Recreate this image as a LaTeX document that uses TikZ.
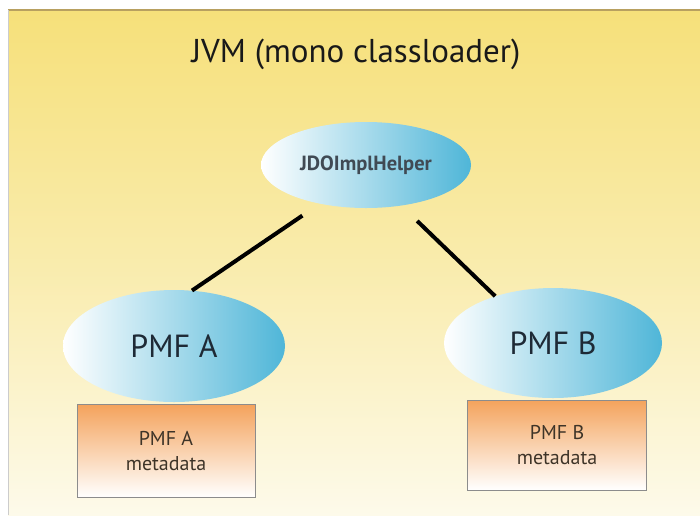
\documentclass[tikz,border=0pt]{standalone}
\usepackage{fontspec}
\setmainfont{PT Sans}
\usetikzlibrary{shapes.geometric}
\definecolor{panelTop}{HTML}{F6E07A}
\definecolor{panelBot}{HTML}{FDFAEA}
\definecolor{bubble}{HTML}{4FB6D8}
\definecolor{boxTop}{HTML}{F4A35C}
\definecolor{ink}{HTML}{1E2A36}
\definecolor{rim}{HTML}{B8A060}
\definecolor{metaink}{HTML}{3E3428}
\tikzset{
  bubble/.style={ellipse, shading=axis, left color=white, right color=bubble,
    shading angle=90, text=ink, inner sep=0pt},
  metabox/.style={draw=black!45, line width=1pt, top color=boxTop, bottom color=white,
    text=metaink, align=center, inner sep=0pt, font=\fontsize{20}{25}\selectfont},
  link/.style={line width=4pt, black}
}
\begin{document}
\begin{tikzpicture}[x=1pt,y=-1pt]
  \useasboundingbox (0,0) rectangle (700,515);
  \fill[white] (0,0) rectangle (700,515);
  % background panel
  \shade[top color=panelTop, bottom color=panelBot, middle color=panelTop!55!panelBot]
    (8,10) rectangle (700,515);
  \draw[line width=1.5pt, rim] (8,10) -- (700,10);
  \draw[line width=1pt, black!20] (8,10) -- (8,515);
  % title
  \node[font=\fontsize{33}{38}\selectfont, text=black!90] (title) at (356,54) {JVM (mono classloader)};
  % nodes
  \node[bubble, minimum width=210, minimum height=86, font=\bfseries\fontsize{20.5}{24}\selectfont, text=ink!85] (helper) at (366,165) {JDOImplHelper};
  \node[bubble, minimum width=222, minimum height=112, font=\fontsize{32}{36}\selectfont] (pmfa) at (174,346) {PMF A};
  \node[bubble, minimum width=218, minimum height=110, font=\fontsize{32}{36}\selectfont] (pmfb) at (553,343) {PMF B};
  \node[metabox, minimum width=178, minimum height=93] (metaa) at (166,451) {PMF A\\metadata};
  \node[metabox, minimum width=179, minimum height=90] (metab) at (557,445) {PMF B\\metadata};
  % connectors
  \draw[link, shorten <=21pt] (helper.220.5) -- (pmfa.72);
  \draw[link, shorten <=22pt] (helper.311) -- (pmfb.141.6);
\end{tikzpicture}
\end{document}
